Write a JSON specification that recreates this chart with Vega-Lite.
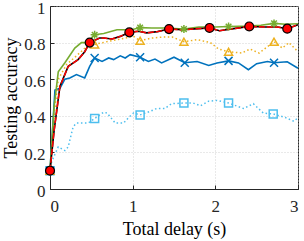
{
  "$schema": "https://vega.github.io/schema/vega-lite/v6.json",
  "width": 248,
  "height": 183,
  "autosize": {"type": "none"},
  "padding": {"left": 50, "top": 6, "right": 6, "bottom": 52},
  "datasets": {
    "lines": [
      {"s": "lb", "x": 0, "y": 0.1}, {"s": "lb", "x": 0.02, "y": 0.15}, {"s": "lb", "x": 0.1, "y": 0.23}, {"s": "lb", "x": 0.18, "y": 0.21}, {"s": "lb", "x": 0.22, "y": 0.23}, {"s": "lb", "x": 0.28, "y": 0.34}, {"s": "lb", "x": 0.32, "y": 0.36}, {"s": "lb", "x": 0.46, "y": 0.36}, {"s": "lb", "x": 0.54, "y": 0.385}, {"s": "lb", "x": 0.65, "y": 0.42}, {"s": "lb", "x": 0.69, "y": 0.415}, {"s": "lb", "x": 0.79, "y": 0.36}, {"s": "lb", "x": 0.89, "y": 0.36}, {"s": "lb", "x": 0.95, "y": 0.39}, {"s": "lb", "x": 1.01, "y": 0.415}, {"s": "lb", "x": 1.09, "y": 0.405}, {"s": "lb", "x": 1.21, "y": 0.424}, {"s": "lb", "x": 1.29, "y": 0.44}, {"s": "lb", "x": 1.39, "y": 0.44}, {"s": "lb", "x": 1.47, "y": 0.466}, {"s": "lb", "x": 1.62, "y": 0.47}, {"s": "lb", "x": 1.73, "y": 0.47}, {"s": "lb", "x": 1.82, "y": 0.455}, {"s": "lb", "x": 1.92, "y": 0.48}, {"s": "lb", "x": 2.02, "y": 0.484}, {"s": "lb", "x": 2.16, "y": 0.47}, {"s": "lb", "x": 2.34, "y": 0.44}, {"s": "lb", "x": 2.46, "y": 0.466}, {"s": "lb", "x": 2.58, "y": 0.415}, {"s": "lb", "x": 2.7, "y": 0.41}, {"s": "lb", "x": 2.85, "y": 0.39}, {"s": "lb", "x": 2.95, "y": 0.37}, {"s": "lb", "x": 3.0, "y": 0.39},

      {"s": "bl", "x": 0, "y": 0.1}, {"s": "bl", "x": 0.06, "y": 0.54}, {"s": "bl", "x": 0.12, "y": 0.55}, {"s": "bl", "x": 0.18, "y": 0.6}, {"s": "bl", "x": 0.24, "y": 0.607}, {"s": "bl", "x": 0.32, "y": 0.625}, {"s": "bl", "x": 0.42, "y": 0.607}, {"s": "bl", "x": 0.48, "y": 0.67}, {"s": "bl", "x": 0.54, "y": 0.716}, {"s": "bl", "x": 0.63, "y": 0.697}, {"s": "bl", "x": 0.71, "y": 0.716}, {"s": "bl", "x": 0.77, "y": 0.707}, {"s": "bl", "x": 0.85, "y": 0.728}, {"s": "bl", "x": 0.91, "y": 0.716}, {"s": "bl", "x": 0.97, "y": 0.734}, {"s": "bl", "x": 1.09, "y": 0.72}, {"s": "bl", "x": 1.19, "y": 0.697}, {"s": "bl", "x": 1.27, "y": 0.71}, {"s": "bl", "x": 1.35, "y": 0.689}, {"s": "bl", "x": 1.5, "y": 0.72}, {"s": "bl", "x": 1.63, "y": 0.69}, {"s": "bl", "x": 1.78, "y": 0.697}, {"s": "bl", "x": 1.92, "y": 0.675}, {"s": "bl", "x": 2.02, "y": 0.689}, {"s": "bl", "x": 2.16, "y": 0.7}, {"s": "bl", "x": 2.28, "y": 0.689}, {"s": "bl", "x": 2.4, "y": 0.652}, {"s": "bl", "x": 2.5, "y": 0.685}, {"s": "bl", "x": 2.63, "y": 0.697}, {"s": "bl", "x": 2.71, "y": 0.69}, {"s": "bl", "x": 2.87, "y": 0.695}, {"s": "bl", "x": 3.0, "y": 0.66},

      {"s": "or", "x": 0, "y": 0.1}, {"s": "or", "x": 0.05, "y": 0.4}, {"s": "or", "x": 0.1, "y": 0.6}, {"s": "or", "x": 0.2, "y": 0.68}, {"s": "or", "x": 0.3, "y": 0.72}, {"s": "or", "x": 0.4, "y": 0.76}, {"s": "or", "x": 0.44, "y": 0.78}, {"s": "or", "x": 0.54, "y": 0.79}, {"s": "or", "x": 0.71, "y": 0.807}, {"s": "or", "x": 0.81, "y": 0.816}, {"s": "or", "x": 0.91, "y": 0.825}, {"s": "or", "x": 1.01, "y": 0.835}, {"s": "or", "x": 1.09, "y": 0.81}, {"s": "or", "x": 1.23, "y": 0.825}, {"s": "or", "x": 1.36, "y": 0.83}, {"s": "or", "x": 1.48, "y": 0.83}, {"s": "or", "x": 1.62, "y": 0.805}, {"s": "or", "x": 1.78, "y": 0.816}, {"s": "or", "x": 1.94, "y": 0.8}, {"s": "or", "x": 2.04, "y": 0.765}, {"s": "or", "x": 2.16, "y": 0.75}, {"s": "or", "x": 2.32, "y": 0.743}, {"s": "or", "x": 2.42, "y": 0.765}, {"s": "or", "x": 2.53, "y": 0.743}, {"s": "or", "x": 2.71, "y": 0.805}, {"s": "or", "x": 2.81, "y": 0.77}, {"s": "or", "x": 2.89, "y": 0.8}, {"s": "or", "x": 3.0, "y": 0.75},

      {"s": "gr", "x": 0, "y": 0.1}, {"s": "gr", "x": 0.05, "y": 0.45}, {"s": "gr", "x": 0.1, "y": 0.64}, {"s": "gr", "x": 0.18, "y": 0.69}, {"s": "gr", "x": 0.3, "y": 0.77}, {"s": "gr", "x": 0.38, "y": 0.8}, {"s": "gr", "x": 0.45, "y": 0.8}, {"s": "gr", "x": 0.54, "y": 0.843}, {"s": "gr", "x": 0.65, "y": 0.85}, {"s": "gr", "x": 0.81, "y": 0.87}, {"s": "gr", "x": 0.99, "y": 0.87}, {"s": "gr", "x": 1.09, "y": 0.882}, {"s": "gr", "x": 1.23, "y": 0.88}, {"s": "gr", "x": 1.4, "y": 0.88}, {"s": "gr", "x": 1.62, "y": 0.874}, {"s": "gr", "x": 1.8, "y": 0.885}, {"s": "gr", "x": 2.0, "y": 0.885}, {"s": "gr", "x": 2.16, "y": 0.888}, {"s": "gr", "x": 2.4, "y": 0.89}, {"s": "gr", "x": 2.55, "y": 0.895}, {"s": "gr", "x": 2.71, "y": 0.905}, {"s": "gr", "x": 2.85, "y": 0.9}, {"s": "gr", "x": 3.0, "y": 0.903},

      {"s": "bk", "x": 0, "y": 0.1}, {"s": "bk", "x": 0.05, "y": 0.32}, {"s": "bk", "x": 0.12, "y": 0.56}, {"s": "bk", "x": 0.22, "y": 0.67}, {"s": "bk", "x": 0.34, "y": 0.707}, {"s": "bk", "x": 0.42, "y": 0.75}, {"s": "bk", "x": 0.48, "y": 0.8}, {"s": "bk", "x": 0.6, "y": 0.825}, {"s": "bk", "x": 0.65, "y": 0.825}, {"s": "bk", "x": 0.75, "y": 0.82}, {"s": "bk", "x": 0.85, "y": 0.834}, {"s": "bk", "x": 0.96, "y": 0.856}, {"s": "bk", "x": 1.07, "y": 0.862}, {"s": "bk", "x": 1.17, "y": 0.853}, {"s": "bk", "x": 1.3, "y": 0.86}, {"s": "bk", "x": 1.44, "y": 0.874}, {"s": "bk", "x": 1.6, "y": 0.87}, {"s": "bk", "x": 1.75, "y": 0.875}, {"s": "bk", "x": 1.93, "y": 0.88}, {"s": "bk", "x": 2.05, "y": 0.865}, {"s": "bk", "x": 2.2, "y": 0.875}, {"s": "bk", "x": 2.41, "y": 0.888}, {"s": "bk", "x": 2.6, "y": 0.885}, {"s": "bk", "x": 2.75, "y": 0.885}, {"s": "bk", "x": 2.87, "y": 0.876}, {"s": "bk", "x": 3.0, "y": 0.898}
    ],
    "markers": [
      {"s": "lb", "x": 0, "y": 0.1}, {"s": "lb", "x": 0.54, "y": 0.385}, {"s": "lb", "x": 1.09, "y": 0.405}, {"s": "lb", "x": 1.62, "y": 0.47}, {"s": "lb", "x": 2.16, "y": 0.47}, {"s": "lb", "x": 2.7, "y": 0.41},
      {"s": "bl", "x": 0, "y": 0.1}, {"s": "bl", "x": 0.54, "y": 0.716}, {"s": "bl", "x": 1.09, "y": 0.72}, {"s": "bl", "x": 1.63, "y": 0.69}, {"s": "bl", "x": 2.16, "y": 0.7}, {"s": "bl", "x": 2.71, "y": 0.69},
      {"s": "or", "x": 0, "y": 0.1}, {"s": "or", "x": 0.54, "y": 0.79}, {"s": "or", "x": 1.09, "y": 0.81}, {"s": "or", "x": 1.62, "y": 0.805}, {"s": "or", "x": 2.16, "y": 0.75}, {"s": "or", "x": 2.71, "y": 0.805},
      {"s": "gr", "x": 0, "y": 0.1}, {"s": "gr", "x": 0.54, "y": 0.843}, {"s": "gr", "x": 1.09, "y": 0.882}, {"s": "gr", "x": 1.62, "y": 0.874}, {"s": "gr", "x": 2.16, "y": 0.888}, {"s": "gr", "x": 2.71, "y": 0.905}
    ],
    "circles": [
      {"x": 0, "y": 0.1}, {"x": 0.48, "y": 0.8}, {"x": 0.96, "y": 0.856}, {"x": 1.44, "y": 0.874}, {"x": 1.93, "y": 0.88}, {"x": 2.41, "y": 0.888}, {"x": 2.87, "y": 0.876}
    ]
  },
  "encoding": {
    "x": {"field": "x", "type": "quantitative", "scale": {"domain": [0, 3], "nice": false, "zero": false},
      "axis": {"title": "Total delay (s)", "values": [0, 1, 2, 3], "format": "d", "grid": true, "labelPadding": 13, "titlePadding": 6}},
    "y": {"field": "y", "type": "quantitative", "scale": {"domain": [0, 1], "nice": false},
      "axis": {"title": "Testing accuracy", "values": [0, 0.2, 0.4, 0.6, 0.8, 1], "labelExpr": "datum.value == 0 ? '0' : datum.value == 1 ? '1' : format(datum.value, '.1f')", "grid": true, "labelPadding": 9, "labelOffset": 2, "titlePadding": 3}}
  },
  "layer": [
    {"data": {"name": "lines"}, "transform": [{"filter": "datum.s == 'lb'"}], "mark": {"type": "line", "color": "#4DBEEE", "strokeWidth": 1.5, "strokeDash": [1.5, 2.5]}},
    {"data": {"name": "lines"}, "transform": [{"filter": "datum.s == 'bl'"}], "mark": {"type": "line", "color": "#0072BD", "strokeWidth": 1.6}},
    {"data": {"name": "lines"}, "transform": [{"filter": "datum.s == 'or'"}], "mark": {"type": "line", "color": "#EDB120", "strokeWidth": 1.5, "strokeDash": [1.5, 2.5]}},
    {"data": {"name": "lines"}, "transform": [{"filter": "datum.s == 'gr'"}], "mark": {"type": "line", "color": "#77AC30", "strokeWidth": 1.6}},
    {"data": {"name": "lines"}, "transform": [{"filter": "datum.s == 'bk'"}], "mark": {"type": "line", "color": "#000000", "strokeWidth": 1.6}},
    {"data": {"name": "lines"}, "transform": [{"filter": "datum.s == 'bk'"}], "mark": {"type": "line", "color": "#FF0000", "strokeWidth": 1.5, "strokeDash": [6, 2]}},
    {"data": {"name": "markers"}, "mark": {"type": "point", "filled": false, "strokeWidth": 1.5, "opacity": 1},
      "encoding": {
        "color": {"field": "s", "type": "nominal", "legend": null, "scale": {"domain": ["lb", "bl", "or", "gr"], "range": ["#4DBEEE", "#0072BD", "#EDB120", "#77AC30"]}},
        "shape": {"field": "s", "type": "nominal", "legend": null, "scale": {"domain": ["lb", "bl", "or", "gr"], "range": ["square", "M-1,-1L1,1M-1,1L1,-1", "triangle-up", "M0,-1L0,1M-1,0L1,0M-0.7,-0.7L0.7,0.7M-0.7,0.7L0.7,-0.7"]}},
        "size": {"field": "s", "type": "nominal", "legend": null, "scale": {"domain": ["lb", "bl", "or", "gr"], "range": [64, 64, 110, 110]}}
      }},
    {"data": {"name": "circles"}, "mark": {"type": "point", "shape": "circle", "filled": true, "fill": "#FF0000", "stroke": "#000000", "strokeWidth": 1.2, "size": 80, "opacity": 1}}
  ],
  "config": {
    "font": "Liberation Serif",
    "view": {"stroke": "#262626", "strokeWidth": 1},
    "axis": {
      "labelFont": "Liberation Serif", "labelFontSize": 17, "labelColor": "#262626",
      "titleFont": "Liberation Serif", "titleFontSize": 18, "titleFontWeight": "normal", "titleColor": "#000000",
      "domainColor": "#262626", "tickColor": "#262626", "tickSize": -4,
      "gridColor": "#c8c8c8", "gridDash": [1, 2], "gridWidth": 0.8
    }
  }
}
